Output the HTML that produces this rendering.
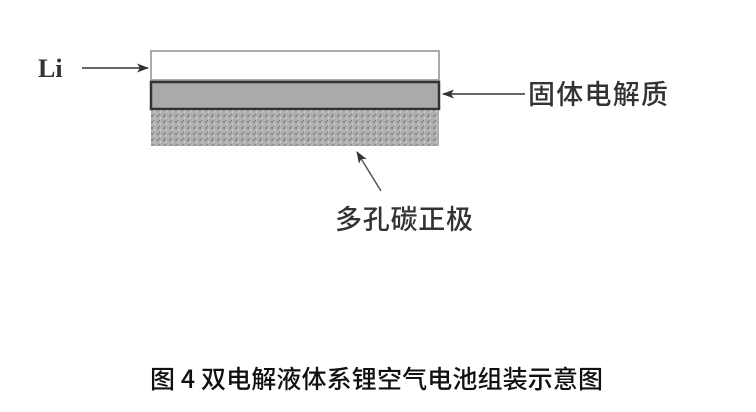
<!DOCTYPE html>
<html><head><meta charset="utf-8"><style>body{margin:0;background:#fff}svg{display:block}</style></head>
<body>
<svg width="756" height="412" xmlns="http://www.w3.org/2000/svg">
<defs>
<pattern id="p" width="6" height="6" patternUnits="userSpaceOnUse">
<rect width="6" height="6" fill="#b0b0b0"/><rect x="1" y="1" width="2" height="2" fill="#888"/><rect x="4" y="3" width="1" height="2" fill="#d2d2d2"/><rect x="3" y="0" width="1" height="1" fill="#777"/>
</pattern>
<marker id="a" markerWidth="12" markerHeight="9" refX="11" refY="4.5" orient="auto" markerUnits="userSpaceOnUse"><path d="M0,0 L12,4.5 L0,9 L3,4.5z" fill="#333"/></marker>
</defs>
<rect x="151" y="51" width="288" height="29" fill="#fff" stroke="#aaa" stroke-width="2"/>
<rect x="151" y="82" width="288" height="27" fill="#aaa" stroke="#333" stroke-width="2.5"/>
<rect x="151" y="110" width="288" height="36" fill="url(#p)"/>
<text x="38" y="77" font-family="Liberation Serif,serif" font-weight="bold" font-size="26" fill="#333">Li</text>
<line x1="82" y1="68" x2="148" y2="68" stroke="#333" stroke-width="1.5" marker-end="url(#a)"/>
<line x1="525" y1="94" x2="443" y2="94" stroke="#333" stroke-width="1.5" marker-end="url(#a)"/>
<text x="528" y="104" font-family="Noto Sans CJK SC,sans-serif" font-weight="500" font-size="27" fill="#333" textLength="140">固体电解质</text>
<line x1="381" y1="191" x2="357" y2="152" stroke="#555" stroke-width="1.5" marker-end="url(#a)"/>
<text x="335" y="229" font-family="Noto Sans CJK SC,sans-serif" font-weight="500" font-size="27" fill="#333" textLength="138">多孔碳正极</text>
<text x="150" y="388" font-family="Noto Sans CJK SC,sans-serif" font-weight="500" font-size="25" fill="#111" textLength="453">图 4 双电解液体系锂空气电池组装示意图</text>
</svg>
</body></html>
